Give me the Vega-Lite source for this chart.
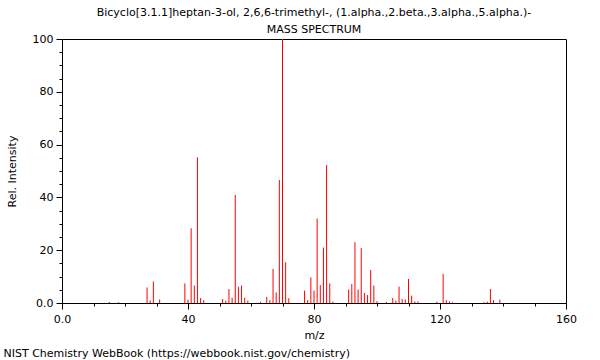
{
  "$schema": "https://vega.github.io/schema/vega-lite/v6.json",
  "padding": {"left": 3, "top": 6, "right": 20, "bottom": 2},
  "background": "white",
  "config": {
    "font": "DejaVu Sans",
    "view": {"stroke": "#000000", "strokeWidth": 1},
    "axis": {"domainColor": "#000000", "tickColor": "#000000", "labelColor": "#000000", "titleColor": "#000000", "labelFont": "DejaVu Sans", "titleFont": "DejaVu Sans", "labelFontSize": 11, "titleFontSize": 11, "titleFontWeight": "normal", "grid": false}
  },
  "title": {"text": "NIST Chemistry WebBook (https://webbook.nist.gov/chemistry)", "orient": "bottom", "anchor": "start", "fontSize": 11, "fontWeight": "normal", "font": "DejaVu Sans", "color": "#000000", "offset": 7, "dx": -2},
  "vconcat": [
    {
      "width": 504,
      "height": 264,
      "title": {"text": ["Bicyclo[3.1.1]heptan-3-ol, 2,6,6-trimethyl-, (1.alpha.,2.beta.,3.alpha.,5.alpha.)-", "MASS SPECTRUM"], "fontSize": 11, "fontWeight": "normal", "font": "DejaVu Sans", "color": "#000000", "lineHeight": 17, "offset": -2, "anchor": "middle", "frame": "group"},
      "data": {"values": [
        {"mz": 15, "intensity": 0.4}, {"mz": 18, "intensity": 0.3}, {"mz": 27, "intensity": 5.9}, {"mz": 28, "intensity": 1.0},
        {"mz": 29, "intensity": 8.2}, {"mz": 31, "intensity": 1.3}, {"mz": 39, "intensity": 7.4}, {"mz": 40, "intensity": 1.3},
        {"mz": 41, "intensity": 28.3}, {"mz": 42, "intensity": 6.6}, {"mz": 43, "intensity": 55.2}, {"mz": 44, "intensity": 1.9},
        {"mz": 45, "intensity": 1.1}, {"mz": 51, "intensity": 1.5}, {"mz": 52, "intensity": 0.9}, {"mz": 53, "intensity": 5.3},
        {"mz": 54, "intensity": 2.0}, {"mz": 55, "intensity": 40.9}, {"mz": 56, "intensity": 6.2}, {"mz": 57, "intensity": 6.6},
        {"mz": 58, "intensity": 2.0}, {"mz": 59, "intensity": 0.9}, {"mz": 63, "intensity": 0.5}, {"mz": 65, "intensity": 2.3},
        {"mz": 66, "intensity": 1.1}, {"mz": 67, "intensity": 12.9}, {"mz": 68, "intensity": 4.0}, {"mz": 69, "intensity": 46.6},
        {"mz": 70, "intensity": 100}, {"mz": 71, "intensity": 15.4}, {"mz": 72, "intensity": 1.8}, {"mz": 77, "intensity": 4.7},
        {"mz": 78, "intensity": 1.1}, {"mz": 79, "intensity": 9.7}, {"mz": 80, "intensity": 4.7}, {"mz": 81, "intensity": 32.0},
        {"mz": 82, "intensity": 6.8}, {"mz": 83, "intensity": 21.0}, {"mz": 84, "intensity": 52.3}, {"mz": 85, "intensity": 7.4},
        {"mz": 86, "intensity": 0.5}, {"mz": 91, "intensity": 5.1}, {"mz": 92, "intensity": 7.2}, {"mz": 93, "intensity": 23.0},
        {"mz": 94, "intensity": 5.1}, {"mz": 95, "intensity": 20.8}, {"mz": 96, "intensity": 3.8}, {"mz": 97, "intensity": 3.0},
        {"mz": 98, "intensity": 12.5}, {"mz": 99, "intensity": 6.6}, {"mz": 100, "intensity": 0.7}, {"mz": 103, "intensity": 0.4},
        {"mz": 105, "intensity": 1.9}, {"mz": 106, "intensity": 0.9}, {"mz": 107, "intensity": 6.2}, {"mz": 108, "intensity": 1.5},
        {"mz": 109, "intensity": 1.3}, {"mz": 110, "intensity": 9.1}, {"mz": 111, "intensity": 2.8}, {"mz": 112, "intensity": 0.6},
        {"mz": 113, "intensity": 0.6}, {"mz": 119, "intensity": 0.5}, {"mz": 121, "intensity": 11.0}, {"mz": 122, "intensity": 1.1},
        {"mz": 123, "intensity": 0.6}, {"mz": 124, "intensity": 0.3}, {"mz": 134, "intensity": 0.3}, {"mz": 135, "intensity": 0.5},
        {"mz": 136, "intensity": 5.3}, {"mz": 137, "intensity": 1.1}, {"mz": 139, "intensity": 1.3}
      ]},
      "layer": [
        {
          "mark": {"type": "rule", "color": "#ff0000", "strokeWidth": 1},
          "encoding": {
            "x": {"field": "mz", "type": "quantitative", "scale": {"domain": [0, 160], "nice": false, "zero": false},
              "axis": {"orient": "bottom", "values": [0, 40, 80, 120, 160], "title": "m/z", "tickSize": 6, "labelPadding": 4, "titlePadding": 5,
                "labelExpr": "datum.value == 0 ? '0.0' : datum.label", "labelFlush": false}},
            "y": {"field": "intensity", "type": "quantitative", "scale": {"domain": [0, 100], "nice": false},
              "axis": {"orient": "left", "values": [0, 20, 40, 60, 80, 100], "title": "Rel. Intensity", "tickSize": 6, "labelPadding": 3, "titlePadding": 15,
                "labelExpr": "datum.value == 0 ? '0.0' : datum.label"}},
            "y2": {"datum": 0}
          }
        },
        {
          "mark": {"type": "rule", "strokeOpacity": 0},
          "encoding": {
            "x": {"field": "mz", "type": "quantitative", "scale": {"domain": [0, 160], "nice": false, "zero": false},
              "axis": {"orient": "bottom", "values": [10, 20, 30, 50, 60, 70, 90, 100, 110, 130, 140, 150], "labels": false, "domain": false, "title": null, "tickSize": 3}},
            "y": {"field": "intensity", "type": "quantitative", "scale": {"domain": [0, 100], "nice": false},
              "axis": {"orient": "left", "values": [5, 10, 15, 25, 30, 35, 45, 50, 55, 65, 70, 75, 85, 90, 95], "labels": false, "domain": false, "title": null, "tickSize": 3}},
            "y2": {"datum": 0}
          }
        }
      ],
      "resolve": {"axis": {"x": "independent", "y": "independent"}}
    }
  ]
}
